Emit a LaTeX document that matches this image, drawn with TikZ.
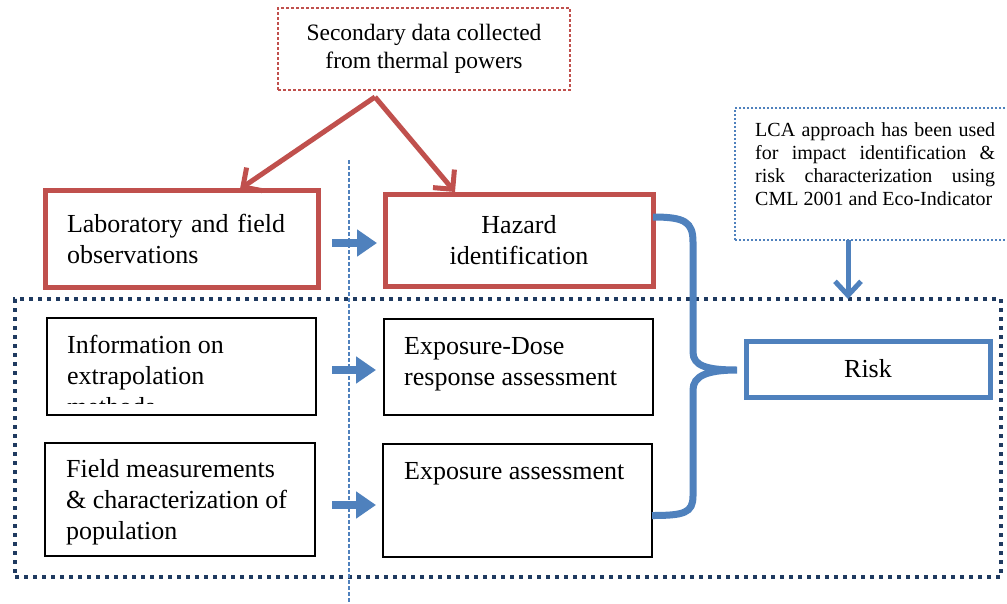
\documentclass[tikz,border=0pt]{standalone}
\usepackage{fontspec}
\setmainfont{Liberation Serif}
\usetikzlibrary{arrows.meta,calc}
\definecolor{offred}{HTML}{C0504D}
\definecolor{offblue}{HTML}{4F81BD}
\definecolor{navyblue}{HTML}{1F3A60}
\tikzset{
  boxbase/.style={rectangle, outer sep=0pt, anchor=north west},
  redbox/.style={boxbase, draw=offred, line width=5pt},
  blackbox/.style={boxbase, draw=black, line width=1.5pt},
  riskbox/.style={boxbase, draw=offblue, line width=5pt},
  secbox/.style={boxbase, draw=offred, line width=1.5pt, dash pattern=on 3pt off 2pt},
  lcabox/.style={boxbase, draw=offblue, line width=2pt, dash pattern=on 2pt off 2pt},
  framebox/.style={boxbase, draw=navyblue, line width=4pt, dash pattern=on 4pt off 5pt},
  bigtext/.style={font=\fontsize{26}{31}\selectfont},
  toptext/.style={bigtext, anchor=north west, inner sep=0pt, align=left},
  redarrow/.style={draw=offred, line width=5pt, -{Straight Barb[length=14pt,width=28pt]}},
  blockarrow/.style={draw=offblue, line width=8pt, -{Triangle[length=20pt,width=26pt]}},
  lcaarrow/.style={draw=offblue, line width=5pt, -{Straight Barb[length=14pt,width=26pt]}},
  brace/.style={draw=offblue, line width=7pt},
  divider/.style={draw=offblue, line width=1.2pt, dash pattern=on 4pt off 2pt},
}
\begin{document}
\begin{tikzpicture}[x=1pt,y=-1pt]
\fill[white] (0,0) rectangle (1007,603);
\useasboundingbox (0,0) rectangle (1007,603);

% large dotted frame
\node[framebox, minimum width=986, minimum height=278] (frame) at (15,299) {};

% divider
\coordinate (dtop) at (349,160);
\coordinate (dbot) at (349,603);
\draw[divider] (dtop) -- (dbot);

% top source box
\node[secbox, minimum width=292, minimum height=82, align=center,
      font=\fontsize{23.5}{28}\selectfont] (sec) at (278,8)
      {Secondary data collected\\from thermal powers};

% red boxes
\node[redbox, minimum width=273, minimum height=97, text width=229, inner xsep=22pt,
      align=left, bigtext] (lab) at (45,190) {Laboratory and field\\observations};
\node[redbox, minimum width=268, minimum height=92, align=center, bigtext] (hz) at (385,194)
      {Hazard\\identification};

% black boxes
\node[blackbox, minimum width=269, minimum height=97] (info) at (47,318) {};
\node[blackbox, minimum width=269, minimum height=96] (ed) at (384,319) {};
\node[blackbox, minimum width=270, minimum height=113] (field) at (45,443) {};
\node[blackbox, minimum width=269, minimum height=113] (ea) at (383,444) {};

\begin{scope}
\clip (49,320) rectangle (314,403);
\node[toptext] (infotext) at (67,335) {Information on\\extrapolation\\methods};
\end{scope}
\node[toptext] (edtext) at (404,337) {Exposure-Dose\\response assessment};
\node[toptext] (fieldtext) at (66,459) {Field measurements\\\& characterization of\\population};
\node[toptext] (eatext) at (404,462) {Exposure assessment};

% risk
\node[riskbox, minimum width=244, minimum height=56, bigtext] (risk) at (746,341) {Risk};

% LCA box
\node[lcabox, minimum width=273, minimum height=132] (lca) at (735,108) {};
\node[anchor=north west, inner sep=0pt, align=left, font=\fontsize{20}{23}\selectfont] (lcatext) at (755,122)
  {\makebox[240pt][s]{LCA approach has been used}\\
   \makebox[240pt][s]{for impact identification \&}\\
   \makebox[240pt][s]{risk characterization using}\\
   CML 2001 and Eco-Indicator};

% red arrows
\coordinate (apex) at (375,97);
\coordinate (labtip) at (240,189);
\coordinate (hztip) at (455,192);
\draw[redarrow] (apex) -- (labtip);
\draw[redarrow] (apex) -- (hztip);

% blue block arrows
\coordinate (a1) at (332,243);
\coordinate (a2) at (332,370);
\coordinate (a3) at (332,505);
\draw[blockarrow] (a1) -- ($(a1 -| hz.west)+(-8,0)$);
\draw[blockarrow] (a2) -- ($(a2 -| ed.west)+(-8,0)$);
\draw[blockarrow] (a3) -- ($(a3 -| ea.west)+(-7,0)$);

% LCA arrow
\draw[lcaarrow] (lca.south -| 848,0) -- (frame.north -| 848,0);

% brace
\coordinate (rtip) at ($(risk.west)+(-9,1)$);
\draw[brace] ($(hz.east)+(0,-23)$) .. controls +(32,0) and +(0,-20) .. (693,242)
   -- (693,352) .. controls +(0,14) and +(-30,0) .. (rtip)
   .. controls +(-30,0) and +(0,-14) .. (693,390)
   -- (693,496) .. controls +(0,17) and +(32,0) .. ($(ea.east)+(0,15)$);
\end{tikzpicture}
\end{document}
